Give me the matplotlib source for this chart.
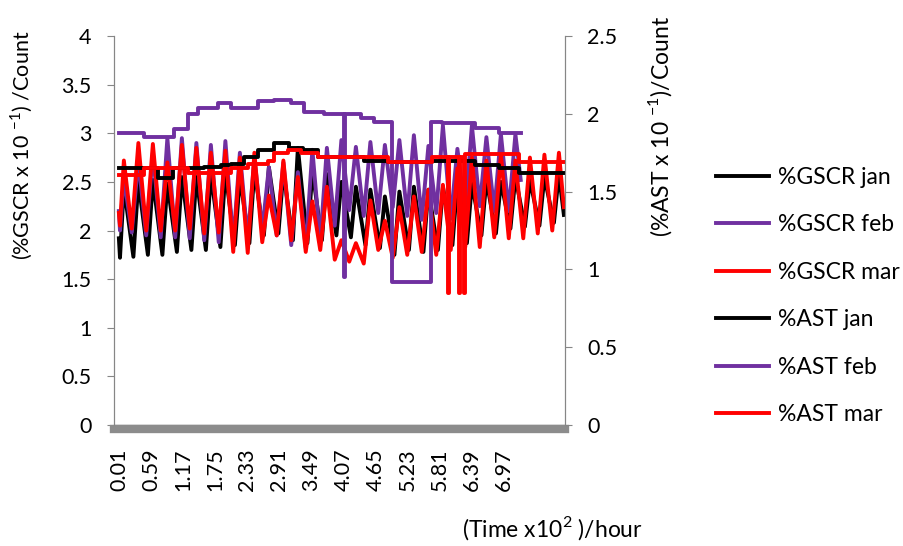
import matplotlib.pyplot as plt
import numpy as np

plt.rcParams['font.family'] = ['Lato', 'DejaVu Sans']
plt.rcParams['mathtext.fontset'] = 'custom'
plt.rcParams['mathtext.rm'] = 'Lato'
plt.rcParams['lines.solid_joinstyle'] = 'round'

# %GSCR, one peak and the trough before it per day (left axis)
gscr_jan_peak = [2.45, 2.50, 2.52, 2.48, 2.55, 2.55, 2.58, 2.60, 2.55, 2.62, 2.65,
                 2.60, 2.85, 2.62, 2.58, 2.50, 2.45, 2.42, 2.35, 2.40, 2.45, 2.42,
                 2.45, 2.50, 2.48, 2.52, 2.50, 2.55, 2.52, 2.55, 2.58]
gscr_jan_trough = [1.72, 1.73, 1.75, 1.75, 1.78, 1.80, 1.80, 1.83, 1.85, 1.87, 1.95,
                   1.97, 1.90, 1.87, 1.90, 1.95, 1.93, 1.85, 1.82, 1.75, 1.80, 1.78,
                   1.80, 1.85, 1.87, 1.95, 1.97, 2.02, 2.04, 2.05, 2.08]
gscr_feb_peak = [2.55, 2.72, 2.80, 2.95, 2.95, 2.90, 2.88, 2.92, 2.80, 2.75, 2.65,
                 2.70, 2.60, 2.83, 2.85, 2.93, 2.86, 2.91, 2.88, 2.93, 2.98, 2.87,
                 3.08, 2.84, 3.08, 2.96, 2.99, 2.99]
gscr_feb_trough = [2.00, 1.98, 1.95, 1.93, 1.93, 1.92, 1.90, 1.88, 1.87, 1.90, 2.00,
                   1.95, 1.85, 1.82, 1.88, 2.05, 2.21, 2.15, 2.18, 2.24, 2.15, 2.11,
                   2.18, 2.12, 2.20, 2.25, 2.20, 2.20]
gscr_mar_peak = [2.72, 2.90, 2.89, 2.70, 2.88, 2.85, 2.80, 2.82, 2.75, 2.80, 2.36,
                 2.72, 2.55, 2.30, 2.45, 1.90, 1.87, 2.31, 2.10, 2.24, 2.35, 2.42,
                 2.47, 2.64, 2.75, 2.72, 2.78, 2.72, 2.75, 2.78, 2.80]
gscr_mar_trough = [2.05, 2.02, 2.00, 2.00, 2.00, 2.02, 1.97, 1.98, 1.78, 1.77, 1.88,
                   1.95, 1.90, 1.78, 1.80, 1.70, 1.68, 1.66, 1.80, 1.72, 1.75, 1.78,
                   1.75, 1.80, 1.83, 1.83, 1.93, 1.92, 1.92, 1.97, 2.00]
gscr_start = {'jan': 1.92, 'feb': 2.20, 'mar': 2.18}
gscr_end = {'jan': (8.05, 2.16), 'feb': (7.27, 2.52), 'mar': (8.05, 2.24)}

# %AST, level changes (time, value) on the right axis
ast_jan_t = [0.01, 0.71, 0.98, 1.54, 1.85, 2.03, 2.27, 2.52, 2.81, 3.08, 3.34,
             3.61, 4.44, 4.88, 5.66, 6.44, 6.87, 7.23, 8.05]
ast_jan = [1.65, 1.59, 1.65, 1.66, 1.67, 1.68, 1.72, 1.77, 1.81, 1.78, 1.77,
           1.72, 1.70, 1.69, 1.70, 1.67, 1.65, 1.62, 1.62]
ast_feb_t = [0.01, 0.46, 1.00, 1.26, 1.44, 1.80, 2.03, 2.52, 2.81, 3.12, 3.36,
             3.72, 4.08, 4.10, 4.39, 4.62, 4.95, 5.64, 5.84, 6.44, 6.87, 7.27]
ast_feb = [1.88, 1.85, 1.90, 2.00, 2.04, 2.07, 2.04, 2.08, 2.09, 2.07, 2.01,
           2.00, 0.95, 2.00, 1.97, 1.95, 0.92, 1.95, 1.94, 1.91, 1.88, 1.88]
ast_mar_t = [0.01, 0.46, 1.26, 2.03, 2.34, 2.70, 2.81, 3.07, 3.30, 3.61, 4.88,
             5.66, 5.96, 5.98, 6.16, 6.18, 6.25, 6.27, 7.23, 8.05]
ast_mar = [1.61, 1.65, 1.62, 1.65, 1.68, 1.70, 1.75, 1.77, 1.75, 1.72, 1.69,
           1.72, 0.85, 1.72, 0.85, 1.72, 0.85, 1.74, 1.69, 1.69]

tick_vals = [0.01, 0.59, 1.17, 1.75, 2.33, 2.91, 3.49, 4.07, 4.65, 5.23, 5.81, 6.39, 6.97]

first_peak = 0.10
day_len = 0.262


def daily_line(name, peaks, troughs, rise):
    tp = first_peak + day_len * np.arange(len(peaks))
    tt = np.maximum(tp - rise, 0.03)
    t = np.column_stack([tt, tp]).ravel()
    v = np.column_stack([troughs, peaks]).ravel()
    t_end, v_end = gscr_end[name]
    t = np.concatenate([[0.01], t, [t_end]])
    v = np.concatenate([[gscr_start[name]], v, [v_end]])
    return t, v


black = '#000000'
purple = '#7030A0'
red = '#FF0000'
grey = '#868686'

fig = plt.figure(figsize=(9.04, 5.46), dpi=100)
ax = fig.add_axes([0.126, 0.2216, 0.499, 0.7124])
ax2 = ax.twinx()

lw = 2.8
h = []
h += ax.plot(*daily_line('jan', gscr_jan_peak, gscr_jan_trough, 0.09), color=black, lw=lw, label='%GSCR jan')
h += ax.plot(*daily_line('feb', gscr_feb_peak, gscr_feb_trough, 0.12), color=purple, lw=lw, label='%GSCR feb')
h += ax.plot(*daily_line('mar', gscr_mar_peak, gscr_mar_trough, 0.12), color=red, lw=lw, label='%GSCR mar')
h += ax2.step(ast_jan_t, ast_jan, where='post', color=black, lw=lw, label='%AST jan')
h += ax2.step(ast_feb_t, ast_feb, where='post', color=purple, lw=lw, label='%AST feb')
h += ax2.step(ast_mar_t, ast_mar, where='post', color=red, lw=lw, label='%AST mar')

fs = 15.5
fs_title = 16.5

for a in (ax, ax2):
    a.spines['top'].set_visible(False)
    a.spines['left'].set_color(grey)
    a.spines['right'].set_color(grey)
    a.spines['bottom'].set_visible(False)

# thick axis bar under the zero line
ax.spines['bottom'].set_visible(True)
ax.spines['bottom'].set_position(('outward', 3))
ax.spines['bottom'].set_linewidth(6)
ax.spines['bottom'].set_color('#8c8c8c')
ax.axhline(0, color=grey, lw=1, clip_on=False, zorder=1)

ax.set_xlim(-0.08, 8.07)
ax.set_ylim(0, 4)
ax2.set_ylim(0, 2.5)
ax.set_yticks(np.arange(0, 4.01, 0.5))
ax.set_yticklabels(['0', '0.5', '1', '1.5', '2', '2.5', '3', '3.5', '4'])
ax2.set_yticks(np.arange(0, 2.51, 0.5))
ax2.set_yticklabels(['0', '0.5', '1', '1.5', '2', '2.5'])
ax.set_xticks(tick_vals)
ax.set_xticklabels(['%.2f' % v for v in tick_vals])

ax.tick_params(axis='y', direction='out', length=5, color=grey, pad=11, labelsize=fs)
ax2.tick_params(axis='y', direction='out', length=5, color=grey, pad=11, labelsize=fs)
ax.tick_params(axis='x', length=0, pad=14, labelsize=fs, labelrotation=90)

fig.text(0.024, 0.734, '(%GSCR x 10 $^{\\mathregular{-1}}$) /Count', rotation=90,
         ha='center', va='center', fontsize=fs)
fig.text(0.730, 0.769, '(%AST x 10 $^{\\mathregular{-1}}$)/Count', rotation=90,
         ha='center', va='center', fontsize=fs_title)
fig.text(0.611, 0.032, '(Time x10$^{\\mathregular{2}}$ )/hour', ha='center', va='center',
         fontsize=16.5)

fig.legend(handles=h, loc='upper left', bbox_to_anchor=(0.792, 0.695), frameon=False,
           fontsize=fs_title, handlelength=2.3, handletextpad=0.4, labelspacing=1.16,
           borderpad=0, borderaxespad=0)

fig.savefig('out.png', dpi=100)
